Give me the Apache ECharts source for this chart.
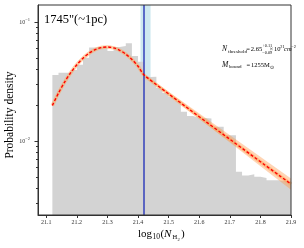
<!DOCTYPE html>
<html><head><meta charset="utf-8">
<script src="https://cdn.jsdelivr.net/npm/echarts@6/dist/echarts.min.js"></script>
<style>html,body{margin:0;padding:0;background:#fff}#c{width:304px;height:248px}</style>
</head><body><div id="c"></div>
<script>
// ---- data ----
const binLeft = [21.12,21.14,21.16,21.18,21.20,21.22,21.24,21.26,21.28,21.30,21.32,21.34,21.36,21.38,21.40,21.42,21.44,21.46,21.48,21.50,21.52,21.54,21.56,21.58,21.60,21.62,21.64,21.66,21.68,21.70,21.72,21.74,21.76,21.78,21.80,21.82,21.84,21.86,21.88];
const binDensity = [0.0359,0.0375,0.0375,0.0395,0.0437,0.0501,0.0611,0.0617,0.0617,0.0570,0.0617,0.0628,0.0662,0.0518,0.0463,0.0345,0.0347,0.0279,0.0253,0.0234,0.0217,0.0176,0.0162,0.0156,0.0156,0.0155,0.0132,0.0132,0.0112,0.0112,0.00552,0.00513,0.00525,0.00501,0.00490,0.00468,0.00468,0.00462,0.00457];
const histEnd = 21.9;
const logNormX = [21.12,21.14,21.16,21.18,21.20,21.22,21.24,21.26,21.28,21.30,21.32,21.34,21.36,21.38,21.40,21.424];
const logNormY = [0.0199,0.0253,0.0313,0.0375,0.0438,0.0497,0.0547,0.0586,0.0610,0.0617,0.0606,0.0579,0.0537,0.0485,0.0425,0.0350];
const powerX = [21.424, 21.9];
const powerY = [0.0350, 0.00435];
const bandHigh = [0.0357, 0.00485];
const bandLow = [0.0343, 0.00390];
const threshold = 21.424, thresholdLo = 21.408, thresholdHi = 21.441;
const xTicks = [21.1,21.2,21.3,21.4,21.5,21.6,21.7,21.8,21.9];
const yMajor = [0.01, 0.1];
const yMinor = [0.003,0.004,0.005,0.006,0.007,0.008,0.009,0.02,0.03,0.04,0.05,0.06,0.07,0.08,0.09];
const xMin = 21.073, xMax = 21.9, yMin = 0.00239, yMax = 0.139;

const SERIF = 'Liberation Serif';
const histData = binLeft.map((x,i)=>[x, binDensity[i]]).concat([[histEnd, binDensity[binDensity.length-1]]]);
const logNormData = logNormX.map((x,i)=>[x, logNormY[i]]);
const powerData = powerX.map((x,i)=>[x, powerY[i]]);
const fitData = logNormData.concat(powerData.slice(1));

function txt(x, y, s, size, italic, extra) {
  return Object.assign({type:'text', x:x, y:y, silent:true, z:100,
    style:{text:s, font:(italic?'italic ':'')+size+'px "'+SERIF+'"', fill:'#000', verticalAlign:'middle', align:'left'}}, extra||{});
}

const chart = echarts.init(document.getElementById('c'), null, {renderer:'canvas'});
chart.setOption({
  animation:false,
  backgroundColor:'#fff',
  grid:{left:38, top:5, right:13, bottom:33, show:true, borderColor:'#333', borderWidth:1, backgroundColor:'transparent', z:50},
  xAxis:{type:'value', min:xMin, max:xMax,
    axisLine:{lineStyle:{color:'#333', width:1}},
    axisTick:{customValues:xTicks, length:3, lineStyle:{color:'#333'}},
    axisLabel:{customValues:xTicks, margin:4, fontSize:6, fontFamily:SERIF, color:'#333', formatter:v=>v.toFixed(1)},
    splitLine:{show:false}},
  yAxis:[{type:'log', logBase:10, min:yMin, max:yMax,
    axisLine:{show:true, lineStyle:{color:'#333', width:1}},
    axisTick:{customValues:yMajor, length:3.5, lineStyle:{color:'#333'}},
    axisLabel:{customValues:yMajor, margin:8, color:'#333',
      formatter:v=> v>0.05 ? '{b|10}{s|−1}' : '{b|10}{s|−2}',
      rich:{b:{fontSize:6, fontFamily:SERIF, color:'#333'}, s:{fontSize:4.5, fontFamily:SERIF, color:'#333', padding:[0,0,4,0]}}},
    splitLine:{show:false}},
   {type:'log', logBase:10, min:yMin, max:yMax, position:'left',
    axisLine:{show:false},
    axisTick:{customValues:yMinor, length:2, lineStyle:{color:'#333'}},
    axisLabel:{show:false}, splitLine:{show:false}}],
  series:[
    {type:'line', name:'hist', data:histData, step:'end', showSymbol:false, symbol:'none',
      lineStyle:{width:0, color:'#d3d3d3'}, areaStyle:{color:'#d3d3d3', opacity:1, origin:'start'}, z:1,
      markArea:{silent:true, itemStyle:{color:'rgba(173,216,230,0.6)'}, data:[[{xAxis:thresholdLo},{xAxis:thresholdHi}]]},
      markLine:{silent:true, symbol:'none', label:{show:false}, lineStyle:{color:'#3340bb', width:1.5, type:'solid'}, data:[{xAxis:threshold}]}
    },
    {type:'custom', silent:true, z:3, data:[[threshold, powerY[0]]],
      renderItem:(params, api)=>{
        const pts = [];
        for (let i=0;i<powerX.length;i++) pts.push(api.coord([powerX[i], bandHigh[i]]));
        for (let i=powerX.length-1;i>=0;i--) pts.push(api.coord([powerX[i], bandLow[i]]));
        return {type:'polygon', shape:{points:pts}, style:{fill:'rgba(255,150,70,0.4)'}};
      }},
    {type:'line', data:fitData, smooth:0.3, showSymbol:false, symbol:'none', z:4,
      lineStyle:{color:'rgba(255,165,90,0.55)', width:3.5}},
    {type:'line', data:fitData, smooth:0.3, showSymbol:false, symbol:'none', z:5,
      lineStyle:{color:'#ff0000', width:1.4, type:[3,2]}}
  ],
  graphic:[
    txt(44, 20, '1745"(~1pc)', 12.5, false),
    txt(222, 49.5, 'N', 7.5, true),
    txt(228.3, 51.5, 'threshold', 5, false),
    txt(246.3, 49.5, '=', 6.5, false),
    txt(250.8, 49.5, '2.65', 6.5, false),
    txt(262.3, 46, '+0.11', 4.3, false),
    txt(262.3, 53, '−0.09', 4.3, false),
    txt(269.5, 49.5, '×', 6.5, false),
    txt(274, 49.5, '10', 6.5, false),
    txt(280.3, 46.5, '21', 4.3, false),
    txt(284, 49.5, 'cm', 6.5, true),
    txt(291.3, 46.5, '−2', 4.3, false),
    txt(222, 65, 'M', 7.5, true),
    txt(229, 67, 'bound', 5, false),
    txt(246.5, 65, '=', 6.5, false),
    txt(251, 65, '1255M', 6.5, false),
    txt(269.8, 67.5, '⊙', 5, false),
    txt(138, 234, 'log', 11, false),
    txt(152.5, 237, '10', 7.5, false),
    txt(160.5, 234, '(', 11, false),
    txt(164, 234, 'N', 11, true),
    txt(172.5, 237.5, 'H', 6.5, false),
    txt(177.5, 239.5, '2', 4.5, false),
    txt(181, 234, ')', 11, false),
    {type:'text', x:10, y:115, rotation:Math.PI/2, silent:true,
      style:{text:'Probability density', font:'11.5px "'+SERIF+'"', fill:'#000', align:'center', verticalAlign:'middle'}}
  ]
});
</script></body></html>
